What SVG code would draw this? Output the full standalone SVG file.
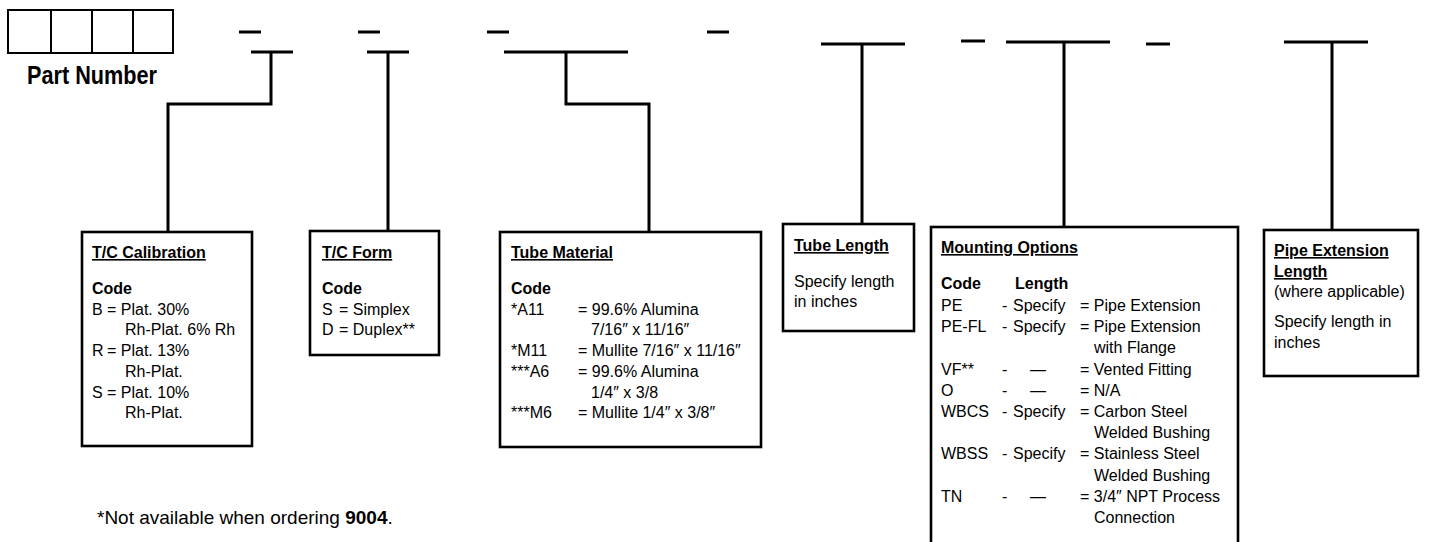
<svg xmlns="http://www.w3.org/2000/svg" width="1430" height="542" viewBox="0 0 1430 542">
<style>
text{font-family:"Liberation Sans",Arial,sans-serif;font-size:16px;fill:#000}
.b{font-weight:bold}
.t{font-weight:bold;text-decoration:underline}
.box{fill:#fff;stroke:#000;stroke-width:2.6}
.ln{fill:none;stroke:#000;stroke-width:3}
.cell{fill:#fff;stroke:#000;stroke-width:2}
</style>
<rect width="1430" height="542" fill="#fff"/>
<g id="part-number">
<rect class="cell" x="8" y="10" width="43" height="43"/>
<rect class="cell" x="51" y="10" width="41" height="43"/>
<rect class="cell" x="92" y="10" width="41" height="43"/>
<rect class="cell" x="133" y="10" width="40" height="43"/>
<text x="27" y="84" class="b" style="font-size:26px" textLength="130" lengthAdjust="spacingAndGlyphs">Part Number</text>
</g>
<g id="dashes">
<path class="ln" d="M239,32H261M358,32H380M487,32H509M707,32H729M961,41H985M1146,44H1170"/>
</g>
<g id="connectors">
<path class="ln" d="M251,52H293M271,52V104H168V232"/>
<path class="ln" d="M367,52H409M388,52V231"/>
<path class="ln" d="M504,52H628M566,52V104H649V232"/>
<path class="ln" d="M821,44H905M862,44V224"/>
<path class="ln" d="M1006,42H1110M1064,42V227"/>
<path class="ln" d="M1284,42H1368M1332,42V230"/>
</g>
<g id="tc-calibration">
<rect class="box" x="82" y="232" width="170" height="214"/>
<text x="92" y="258" class="t">T/C Calibration</text>
<text x="92" y="294" class="b">Code</text>
<text x="92" y="315">B</text><text x="107" y="315">= Plat. 30%</text>
<text x="125" y="335">Rh-Plat. 6% Rh</text>
<text x="92" y="356">R</text><text x="107" y="356">= Plat. 13%</text>
<text x="125" y="377">Rh-Plat.</text>
<text x="92" y="398">S</text><text x="107" y="398">= Plat. 10%</text>
<text x="125" y="418">Rh-Plat.</text>
</g>
<g id="tc-form">
<rect class="box" x="310" y="231" width="129" height="124"/>
<text x="322" y="258" class="t">T/C Form</text>
<text x="322" y="294" class="b">Code</text>
<text x="322" y="315">S</text><text x="339" y="315">= Simplex</text>
<text x="322" y="335">D</text><text x="339" y="335">= Duplex**</text>
</g>
<g id="tube-material">
<rect class="box" x="500" y="232" width="261" height="215"/>
<text x="511" y="258" class="t">Tube Material</text>
<text x="511" y="294" class="b">Code</text>
<text x="511" y="315">*A11</text><text x="578" y="315">= 99.6% Alumina</text>
<text x="591" y="335">7/16″ x 11/16″</text>
<text x="511" y="356">*M11</text><text x="578" y="356">= Mullite 7/16″ x 11/16″</text>
<text x="511" y="377">***A6</text><text x="578" y="377">= 99.6% Alumina</text>
<text x="591" y="398">1/4″ x 3/8</text>
<text x="511" y="418">***M6</text><text x="578" y="418">= Mullite 1/4″ x 3/8″</text>
</g>
<g id="tube-length">
<rect class="box" x="783" y="224" width="131" height="107"/>
<text x="794" y="251" class="t">Tube Length</text>
<text x="794" y="287">Specify length</text>
<text x="794" y="307">in inches</text>
</g>
<g id="mounting-options">
<rect class="box" x="931" y="227" width="307" height="340"/>
<text x="941" y="253" class="t">Mounting Options</text>
<text x="941" y="289" class="b">Code</text><text x="1015" y="289" class="b">Length</text>
<text x="941" y="311">PE</text><text x="1002" y="311">-</text><text x="1013" y="311">Specify</text><text x="1080" y="311">= Pipe Extension</text>
<text x="941" y="332">PE-FL</text><text x="1002" y="332">-</text><text x="1013" y="332">Specify</text><text x="1080" y="332">= Pipe Extension</text>
<text x="1094" y="353">with Flange</text>
<text x="941" y="375">VF**</text><text x="1002" y="375">-</text><text x="1030" y="375">—</text><text x="1080" y="375">= Vented Fitting</text>
<text x="941" y="396">O</text><text x="1002" y="396">-</text><text x="1030" y="396">—</text><text x="1080" y="396">= N/A</text>
<text x="941" y="417">WBCS</text><text x="1002" y="417">-</text><text x="1013" y="417">Specify</text><text x="1080" y="417">= Carbon Steel</text>
<text x="1094" y="438">Welded Bushing</text>
<text x="941" y="459">WBSS</text><text x="1002" y="459">-</text><text x="1013" y="459">Specify</text><text x="1080" y="459">= Stainless Steel</text>
<text x="1094" y="481">Welded Bushing</text>
<text x="941" y="502">TN</text><text x="1002" y="502">-</text><text x="1030" y="502">—</text><text x="1080" y="502">= 3/4″ NPT Process</text>
<text x="1094" y="523">Connection</text>
</g>
<g id="pipe-extension-length">
<rect class="box" x="1264" y="230" width="154" height="146"/>
<text x="1274" y="256" class="t">Pipe Extension</text>
<text x="1274" y="277" class="t">Length</text>
<text x="1274" y="297">(where applicable)</text>
<text x="1274" y="327">Specify length in</text>
<text x="1274" y="348">inches</text>
</g>
<g id="footnote">
<text x="97" y="524" style="font-size:19px">*Not available when ordering <tspan class="b">9004</tspan>.</text>
</g>
</svg>
